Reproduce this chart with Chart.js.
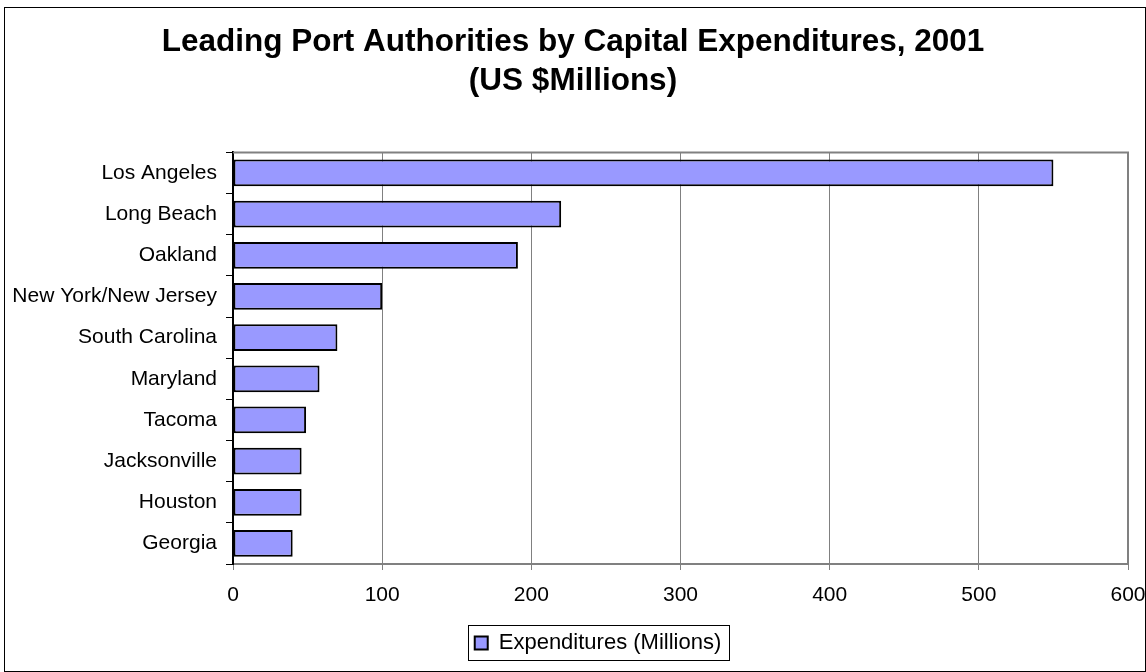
<!DOCTYPE html>
<html>
<head>
<meta charset="utf-8">
<title>Leading Port Authorities by Capital Expenditures, 2001</title>
<script src="https://cdn.jsdelivr.net/npm/chart.js@4.4.1/dist/chart.umd.min.js"></script>
<style>
    html, body { margin: 0; padding: 0; background: #fff; }
    #chart-wrap { width: 1146px; height: 672px; }
</style>
</head>
<body>
<div id="chart-wrap"><canvas id="portChart" width="1146" height="672"></canvas></div>
<script>
const ports = ["Los Angeles", "Long Beach", "Oakland", "New York/New Jersey", "South Carolina",
    "Maryland", "Tacoma", "Jacksonville", "Houston", "Georgia"];
const expenditures = [550, 220, 191, 100, 70, 58, 49, 46, 46, 40];
const seriesLabel = "Expenditures (Millions)";
const titleLines = ["Leading Port Authorities by Capital Expenditures, 2001", "(US $Millions)"];
const xTicks = [0, 100, 200, 300, 400, 500, 600];

const FONT = "'Liberation Sans', Arial, sans-serif";

/**
 * Draws the white page, the outer frame, the plot frame and the legend box.
 */
const framePlugin = {
    id: "frame",
    beforeDraw(chart) {
        const ctx = chart.ctx;
        ctx.save();
        ctx.fillStyle = "#fff";
        ctx.fillRect(0, 0, chart.width, chart.height);
        ctx.strokeStyle = "#000";
        ctx.lineWidth = 1;
        ctx.strokeRect(4.5, 7.5, chart.width - 5, chart.height - 8); // outer border
        ctx.restore();
    },
    beforeDatasetsDraw(chart) {
        const { ctx, chartArea } = chart;
        ctx.save();
        ctx.strokeStyle = "#808080";
        ctx.lineWidth = 2;
        ctx.beginPath();
        ctx.moveTo(chartArea.left, chartArea.top);
        ctx.lineTo(chartArea.right, chartArea.top);
        ctx.lineTo(chartArea.right, chartArea.bottom);
        ctx.stroke();
        ctx.restore();
    },
    afterLayout(chart) {
        // Excel puts the legend a bit right of the page centre
        chart.legend.left += 25;
        chart.legend.right += 25;
    },
    afterDraw(chart) {
        const hb = chart.legend.legendHitBoxes[0];
        if (!hb) return;
        const ctx = chart.ctx;
        ctx.save();
        ctx.strokeStyle = "#000";
        ctx.lineWidth = 1;
        ctx.strokeRect(Math.round(hb.left - 7) + 0.5, Math.round(hb.top - 7) + 0.5,
            Math.round(hb.width + 14), Math.round(hb.height + 13));
        ctx.restore();
    }
};

new Chart(document.getElementById("portChart"), {
    type: "bar",
    data: {
        labels: ports,
        datasets: [{
            label: seriesLabel,
            data: expenditures,
            backgroundColor: "#9999FF",
            borderColor: "#000",
            borderWidth: 2,
            borderSkipped: false,
            categoryPercentage: 1,
            barPercentage: 0.65
        }]
    },
    options: {
        indexAxis: "y",
        responsive: false,
        animation: false,
        layout: { padding: { top: 0, left: 0, right: 0, bottom: 8 } },
        scales: {
            x: {
                min: 0,
                max: 600,
                afterBuildTicks(scale) {
                    scale.ticks = xTicks.map(v => ({ value: v }));
                },
                afterFit(scale) {
                    scale.height = 60;
                    scale.paddingLeft = 0;
                    scale.paddingRight = 18; // plot ends at x = 1128
                },
                grid: { color: "#808080", lineWidth: 1, tickLength: 6, tickColor: "#808080" },
                border: { color: "#808080", width: 2 },
                ticks: { color: "#000", padding: 13, font: { family: FONT, size: 21 }, maxRotation: 0 }
            },
            y: {
                afterFit(scale) { scale.width = 233; },
                grid: { drawOnChartArea: false, tickLength: 7, color: "#000", offset: true },
                border: { color: "#000", width: 2 },
                ticks: { color: "#000", padding: 9, font: { family: FONT, size: 21 } }
            }
        },
        plugins: {
            title: {
                display: true,
                text: titleLines,
                color: "#000",
                font: { family: FONT, size: 31.5, weight: "bold", lineHeight: 1.26 },
                padding: { top: 22, bottom: 51 }
            },
            legend: {
                position: "bottom",
                labels: {
                    color: "#000",
                    boxWidth: 13,
                    boxHeight: 13,
                    padding: 8,
                    font: { family: FONT, size: 22 },
                    generateLabels(chart) {
                        const items = Chart.defaults.plugins.legend.labels.generateLabels(chart);
                        items.forEach(item => { item.lineWidth = 2; });
                        return items;
                    }
                }
            },
            tooltip: { enabled: false }
        }
    },
    plugins: [framePlugin]
});
</script>
</body>
</html>
